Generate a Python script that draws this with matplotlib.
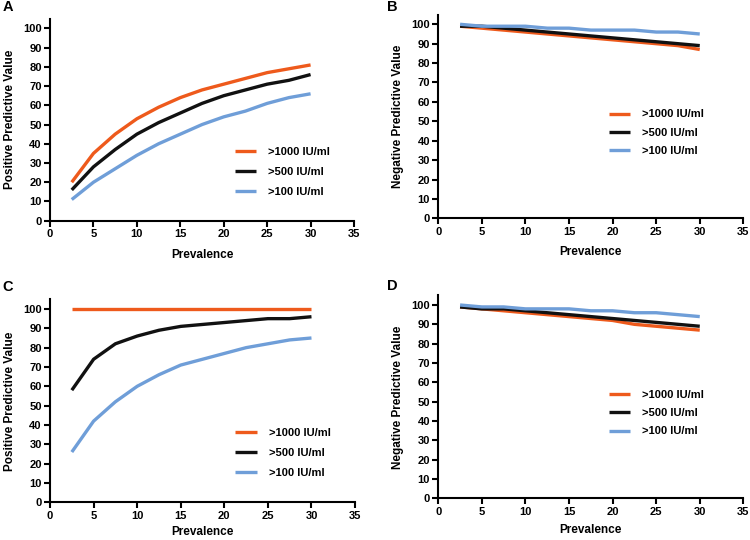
import matplotlib
matplotlib.use("Agg")
import matplotlib.pyplot as plt

plt.rcParams["font.family"] = ["Liberation Sans", "DejaVu Sans"]
plt.rcParams["font.weight"] = "bold"

# prevalence (%)
prevalence = [2.5, 5, 7.5, 10, 12.5, 15, 17.5, 20, 22.5, 25, 27.5, 30]
labels = [">1000 IU/ml", ">500 IU/ml", ">100 IU/ml"]
colors = ["#EE5A1C", "#111111", "#6F9ED8"]

# panel A - positive predictive value
ppv_a_1000 = [20, 35, 45, 53, 59, 64, 68, 71, 74, 77, 79, 81]
ppv_a_500 = [16, 28, 37, 45, 51, 56, 61, 65, 68, 71, 73, 76]
ppv_a_100 = [11, 20, 27, 34, 40, 45, 50, 54, 57, 61, 64, 66]

# panel B - negative predictive value
npv_b_1000 = [99, 98, 97, 96, 95, 94, 93, 92, 91, 90, 89, 87]
npv_b_500 = [99, 99, 98, 97, 96, 95, 94, 93, 92, 91, 90, 89]
npv_b_100 = [100, 99, 99, 99, 98, 98, 97, 97, 97, 96, 96, 95]

# panel C - positive predictive value
ppv_c_1000 = [100, 100, 100, 100, 100, 100, 100, 100, 100, 100, 100, 100]
ppv_c_500 = [58, 74, 82, 86, 89, 91, 92, 93, 94, 95, 95, 96]
ppv_c_100 = [26, 42, 52, 60, 66, 71, 74, 77, 80, 82, 84, 85]

# panel D - negative predictive value
npv_d_1000 = [99, 98, 97, 96, 95, 94, 93, 92, 90, 89, 88, 87]
npv_d_500 = [99, 98, 98, 97, 96, 95, 94, 93, 92, 91, 90, 89]
npv_d_100 = [100, 99, 99, 98, 98, 98, 97, 97, 96, 96, 95, 94]

# letter, axes rect, letter position, y label, series, legend anchor, legend spacing, xlabel pad
panels = [
    ("A", [0.0667, 0.5913, 0.4053, 0.3739], (0.003, 1.0), "Positive Predictive Value",
     [ppv_a_1000, ppv_a_500, ppv_a_100], (0.575, 0.242), 0.9, 7),
    ("B", [0.5844, 0.5957, 0.4067, 0.3773], (0.516, 1.0), "Negative Predictive Value",
     [npv_b_1000, npv_b_500, npv_b_100], (0.527, 0.42), 0.75, 7),
    ("C", [0.0667, 0.0698, 0.4067, 0.3759], (0.003, 0.4815), "Positive Predictive Value",
     [ppv_c_1000, ppv_c_500, ppv_c_100], (0.575, 0.242), 0.9, 4),
    ("D", [0.5844, 0.0772, 0.4067, 0.3759], (0.516, 0.4835), "Negative Predictive Value",
     [npv_d_1000, npv_d_500, npv_d_100], (0.527, 0.42), 0.75, 5),
]

fig = plt.figure(figsize=(7.5, 5.4), dpi=100)

for letter, rect, lpos, ylabel, series, anchor, spacing, xpad in panels:
    ax = fig.add_axes(rect)
    for ys, lab, col in zip(series, labels, colors):
        ax.plot(prevalence, ys, color=col, lw=2.4, label=lab, solid_capstyle="butt")
    ax.set_xlim(0, 35)
    ax.set_ylim(0, 105)
    ax.set_xticks(range(0, 36, 5))
    ax.set_yticks(range(0, 101, 10))
    for s in ["top", "right"]:
        ax.spines[s].set_visible(False)
    for s in ["left", "bottom"]:
        ax.spines[s].set_linewidth(1.5)
    ax.tick_params(direction="out", length=4, width=1.5, labelsize=8, pad=2)
    for t in ax.get_xticklabels() + ax.get_yticklabels():
        t.set_fontweight("bold")
    ax.set_xlabel("Prevalence", fontsize=8.5, fontweight="bold", labelpad=xpad)
    ax.set_ylabel(ylabel, fontsize=8.5, fontweight="bold", labelpad=5)
    leg = ax.legend(loc="center left", bbox_to_anchor=anchor, frameon=False,
                    fontsize=8, handlelength=1.9, handletextpad=1.1, labelspacing=spacing)
    for t in leg.get_texts():
        t.set_fontweight("bold")
    fig.text(lpos[0], lpos[1], letter, fontsize=10.5, fontweight="bold", va="top", ha="left")

fig.savefig("out.png", dpi=100)
